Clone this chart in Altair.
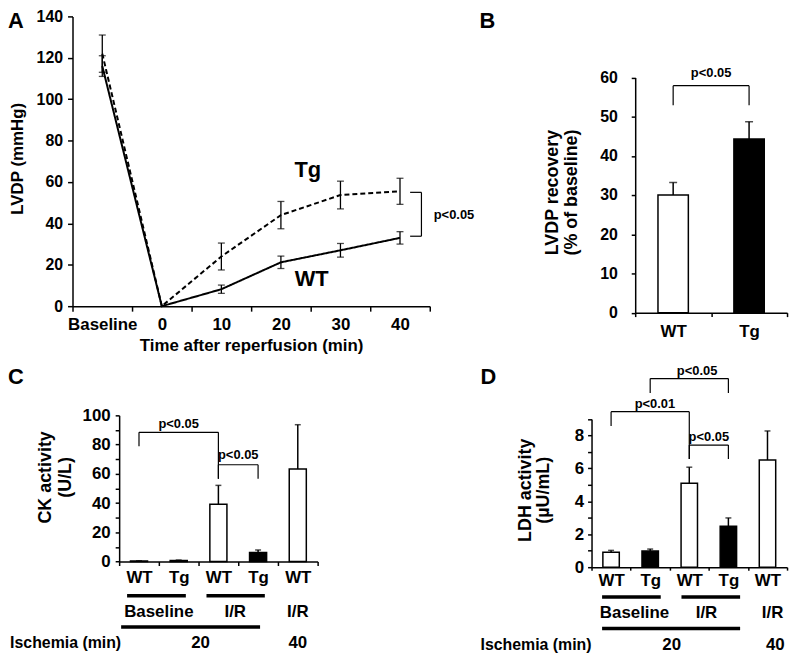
import altair as alt
import pandas as pd

# ---------------- values ----------------
a_times = ["Baseline", "0", "10", "20", "30", "40"]
a_wt_mean = [116.0, 0.0, 8.2, 21.2, 27.0, 33.0]
a_wt_sem = [5.0, 0.0, 2.0, 3.0, 3.3, 3.0]
a_tg_mean = [122.0, 0.0, 24.0, 44.0, 53.7, 55.5]
a_tg_sem = [9.0, 0.0, 6.5, 6.6, 6.7, 6.3]
a_yticks = [0, 20, 40, 60, 80, 100, 120, 140]
a_bracket = [55.0, 33.8]          # Tg end, WT end of the right-hand bracket

b_groups = ["WT", "Tg"]
b_mean = [30.0, 44.3]
b_sem = [3.2, 4.4]
b_yticks = [0, 10, 20, 30, 40, 50, 60]

cd_slots = ["WT_b20", "Tg_b20", "WT_ir20", "Tg_ir20", "WT_ir40"]
cd_geno = ["WT", "Tg", "WT", "Tg", "WT"]
c_mean = [0.3, 0.7, 39.2, 6.1, 63.3]
c_sem = [0.2, 0.3, 12.9, 1.8, 30.3]
c_yticks = [0, 10, 20, 30, 40, 50, 60, 70, 80, 90, 100]
d_mean = [0.9, 0.98, 5.1, 2.49, 6.5]
d_sem = [0.12, 0.12, 0.97, 0.5, 1.77]
d_yticks = [0, 1, 2, 3, 4, 5, 6, 7, 8, 9]

# brackets: [left group, right group, bar level, left foot, right foot]
b_brackets = [["WT", "Tg", 57.9, 52.9, 52.9]]
c_brackets = [["WT_b20", "WT_ir20", 88.4, 78.9, 56.7],
              ["WT_ir20", "Tg_ir20", 66.2, 56.7, 56.7]]
d_brackets = [["WT_b20", "WT_ir20", 9.44, 8.57, 6.57],
              ["Tg_b20", "Tg_ir20", 11.45, 10.58, 10.58],
              ["WT_ir20", "Tg_ir20", 7.41, 6.57, 6.57]]

# ---------------- layout ----------------
W, H = 790, 645
FONT = "Liberation Sans"


def band(domain, r0, r1):
    return alt.Scale(type="band", domain=domain, range=[r0, r1],
                     paddingInner=0, paddingOuter=0)


def lin(domain, r0, r1):
    return alt.Scale(type="linear", domain=domain, range=[r0, r1], nice=False)


def one(**kw):
    return pd.DataFrame({k: [v] for k, v in kw.items()})


def text_at(xs, ys, slot, bp, y, txt, size=13, align="center", dx=0, ypix=None):
    base = alt.Chart(one(s=slot, y=y)).mark_text(
        text=txt, fontSize=size, align=align, baseline="middle", dx=dx,
        font=FONT, fontWeight="bold", color="black")
    yenc = alt.value(ypix) if ypix is not None else alt.Y("y:Q", scale=ys, axis=None)
    return base.encode(x=alt.X("s:N", scale=xs, bandPosition=bp, axis=None), y=yenc)


def hline(xs, s1, bp1, s2, bp2, ypix, width=3.5):
    return alt.Chart(one(s1=s1, s2=s2)).mark_rule(color="black", strokeWidth=width).encode(
        x=alt.X("s1:N", scale=xs, bandPosition=bp1, axis=None),
        x2=alt.X2("s2", bandPosition=bp2),
        y=alt.value(ypix))


def bracket_layer(xs, ys, brs):
    rows = []
    for l, r, top, lf, rf in brs:
        rows.append({"s1": l, "s2": l, "y1": lf, "y2": top})
        rows.append({"s1": l, "s2": r, "y1": top, "y2": top})
        rows.append({"s1": r, "s2": r, "y1": rf, "y2": top})
    return alt.Chart(pd.DataFrame(rows)).mark_rule(color="black", strokeWidth=1.2).encode(
        x=alt.X("s1:N", scale=xs, bandPosition=0.5, axis=None),
        x2=alt.X2("s2", bandPosition=0.5),
        y=alt.Y("y1:Q", scale=ys, axis=None),
        y2="y2:Q")


fill_scale = alt.Scale(domain=["WT", "Tg"], range=["white", "black"])


def bar_layers(groups, geno, mean, sem, xs, ys, xaxis, yaxis, bw, cap):
    df = pd.DataFrame({"g": groups, "geno": geno, "mean": mean,
                       "hi": [m + s for m, s in zip(mean, sem)]})
    bars = alt.Chart(df).mark_bar(width={"band": bw}, stroke="black", strokeWidth=1.5).encode(
        x=alt.X("g:N", scale=xs, axis=xaxis),
        y=alt.Y("mean:Q", scale=ys, axis=yaxis, stack=None),
        fill=alt.Fill("geno:N", scale=fill_scale, legend=None))
    err = alt.Chart(df).mark_rule(color="black", strokeWidth=1.5).encode(
        x=alt.X("g:N", scale=xs, bandPosition=0.5, axis=None),
        y=alt.Y("mean:Q", scale=ys, axis=None), y2="hi:Q")
    caps = alt.Chart(df).mark_tick(color="black", size=cap, thickness=1.5,
                                   orient="horizontal").encode(
        x=alt.X("g:N", scale=xs, bandPosition=0.5, axis=None),
        y=alt.Y("hi:Q", scale=ys, axis=None))
    return [err, caps, bars]


# ---------------- Panel A ----------------
A_X0, A_X1, A_Y0, A_Y1 = 65, 425, 298, 6
xa = band(a_times, A_X0, A_X1)
ya = lin([0, 140], A_Y0, A_Y1)

rows = []
for series, means, sems in (("WT", a_wt_mean, a_wt_sem), ("Tg", a_tg_mean, a_tg_sem)):
    for i, (t, m, s) in enumerate(zip(a_times, means, sems)):
        rows.append({"series": series, "time": t, "idx": i, "mean": m,
                     "lo": m - s, "hi": m + s, "sem": s})
dfa = pd.DataFrame(rows)

xa_axis = alt.Axis(orient="bottom", offset=-(H - A_Y0), tickBand="extent", labelAngle=0,
                   labelFontSize=17, tickSize=5, labelPadding=5, labelOverlap=False,
                   title="Time after reperfusion (min)", titleFontSize=17,
                   titleX=245, titleY=40, titleBaseline="middle")
ya_axis = alt.Axis(orient="left", offset=-A_X0, values=a_yticks, labelFontSize=16,
                   tickSize=5, labelPadding=5, labelOverlap=False,
                   title="LVDP (mmHg)", titleFontSize=17, titleX=-55, titleY=149,
                   titleBaseline="middle")

lineA = alt.Chart(dfa).mark_line(color="black", strokeWidth=2).encode(
    x=alt.X("time:N", scale=xa, bandPosition=0.5, axis=xa_axis),
    y=alt.Y("mean:Q", scale=ya, axis=ya_axis),
    strokeDash=alt.StrokeDash("series:N", scale=alt.Scale(domain=["WT", "Tg"],
                                                            range=[[1, 0], [5, 3]]),
                              legend=None),
    order=alt.Order("idx:Q"))
errA = alt.Chart(dfa).transform_filter("datum.sem > 0").mark_rule(
    color="black", strokeWidth=1.3).encode(
    x=alt.X("time:N", scale=xa, bandPosition=0.5, axis=None),
    y=alt.Y("lo:Q", scale=ya, axis=None), y2="hi:Q")
capA = alt.Chart(dfa).transform_filter("datum.sem > 0").transform_fold(
    ["lo", "hi"], as_=["end", "val"]).mark_tick(
    color="black", size=7, thickness=1.3, orient="horizontal").encode(
    x=alt.X("time:N", scale=xa, bandPosition=0.5, axis=None),
    y=alt.Y("val:Q", scale=ya, axis=None))
brA_h = alt.Chart(pd.DataFrame({"t": ["40", "40"], "y": a_bracket})).mark_rule(
    color="black", strokeWidth=1.2).encode(
    x=alt.X("t:N", scale=xa, bandPosition=0.67, axis=None),
    x2=alt.X2("t", bandPosition=0.86),
    y=alt.Y("y:Q", scale=ya, axis=None))
brA_v = alt.Chart(one(t="40", y1=a_bracket[0], y2=a_bracket[1])).mark_rule(
    color="black", strokeWidth=1.2).encode(
    x=alt.X("t:N", scale=xa, bandPosition=0.86, axis=None),
    y=alt.Y("y1:Q", scale=ya, axis=None), y2="y2:Q")
layersA = [
    lineA, errA, capA, brA_h, brA_v,
    text_at(xa, ya, "40", 1.0, 44.1, "p<0.05", align="left", dx=4),
    text_at(xa, ya, "30", 0.0, 65.7, "Tg", size=22, dx=-3),
    text_at(xa, ya, "30", 0.0, 13.1, "WT", size=22, dx=1),
]

# ---------------- Panel B ----------------
B_X0, B_X1, B_Y0, B_Y1 = 632, 785, 304.5, 67.5
xb = band(b_groups, B_X0, B_X1)
yb = lin([0, 60], B_Y0, B_Y1)
xb_axis = alt.Axis(orient="bottom", offset=-(H - B_Y0), tickBand="extent", labelAngle=0,
                   labelFontSize=17, tickSize=4, labelPadding=7, labelOverlap=False,
                   title=None)
yb_axis = alt.Axis(orient="left", offset=-B_X0, values=b_yticks, labelFontSize=16,
                   tickSize=4, labelPadding=14, labelOverlap=False,
                   title=["LVDP recovery", "(% of baseline)"], titleFontSize=18,
                   titleLineHeight=19, titleX=-83, titleY=183, titleBaseline="middle")
layersB = [
    *bar_layers(b_groups, b_groups, b_mean, b_sem, xb, yb, xb_axis, yb_axis, 0.4, 8),
    bracket_layer(xb, yb, b_brackets),
    text_at(xb, yb, "WT", 1.0, 61.1, "p<0.05"),
]

# ---------------- Panel C ----------------
C_X0, C_X1, C_Y0, C_Y1 = 112, 312, 555.3, 408
xc = band(cd_slots, C_X0, C_X1)
yc = lin([0, 100], C_Y0, C_Y1)
xc_axis = alt.Axis(orient="bottom", offset=-(H - C_Y0), tickBand="extent", labelAngle=0,
                   labelExpr="split(datum.label, '_')[0]", labelFontSize=17, tickSize=4,
                   labelPadding=4, labelOverlap=False, title=None)
yc_axis = alt.Axis(orient="left", offset=-C_X0, values=c_yticks,
                   labelExpr="datum.value % 20 == 0 ? datum.label : ''",
                   labelFontSize=17, tickSize=4, labelPadding=5, labelOverlap=False,
                   title=["CK activity", "(U/L)"], titleFontSize=18, titleLineHeight=20,
                   titleX=-74, titleY=470, titleBaseline="middle")
layersC = [
    *bar_layers(cd_slots, cd_geno, c_mean, c_sem, xc, yc, xc_axis, yc_axis, 0.43, 6),
    bracket_layer(xc, yc, c_brackets),
    text_at(xc, yc, "Tg_b20", 0.5, 94.0, "p<0.05"),
    text_at(xc, yc, "WT_ir20", 1.0, 73.0, "p<0.05"),
    hline(xc, "WT_b20", 0.2, "Tg_b20", 0.68, 589.7),
    hline(xc, "WT_ir20", 0.2, "Tg_ir20", 0.67, 589.7),
    hline(xc, "WT_b20", 0.05, "Tg_ir20", 0.55, 621.3),
    text_at(xc, yc, "WT_b20", 1.0, 0, "Baseline", size=17, ypix=606.3),
    text_at(xc, yc, "WT_ir20", 1.0, 0, "I/R", size=17, dx=-3, ypix=606.3),
    text_at(xc, yc, "WT_ir40", 0.5, 0, "I/R", size=17, ypix=606.3),
    text_at(xc, yc, "Tg_b20", 1.0, 0, "20", size=17, dx=2, ypix=637),
    text_at(xc, yc, "WT_ir40", 0.5, 0, "40", size=17, ypix=637),
    text_at(xc, yc, "WT_b20", 0.0, 0, "Ischemia (min)", size=16, align="right",
            dx=2, ypix=637),
]

# ---------------- Panel D ----------------
D_X0, D_X1, D_Y0, D_Y1 = 588, 785, 561, 411.6
xd = band(cd_slots, D_X0, D_X1)
yd = lin([0, 9], D_Y0, D_Y1)
xd_axis = alt.Axis(orient="bottom", offset=-(H - D_Y0), tickBand="extent", labelAngle=0,
                   labelExpr="split(datum.label, '_')[0]", labelFontSize=17, tickSize=3,
                   labelPadding=2, labelOverlap=False, title=None)
yd_axis = alt.Axis(orient="left", offset=-D_X0, values=d_yticks,
                   labelExpr="datum.value % 2 == 0 ? datum.label : ''",
                   labelFontSize=17, tickSize=4, labelPadding=4, labelOverlap=False,
                   title=["LDH activity", "(µU/mL)"], titleFontSize=18, titleLineHeight=19,
                   titleX=-67, titleY=483, titleBaseline="middle")
layersD = [
    *bar_layers(cd_slots, cd_geno, d_mean, d_sem, xd, yd, xd_axis, yd_axis, 0.42, 6),
    bracket_layer(xd, yd, d_brackets),
    text_at(xd, yd, "Tg_b20", 0.62, 9.92, "p<0.01"),
    text_at(xd, yd, "WT_ir20", 0.7, 11.93, "p<0.05"),
    text_at(xd, yd, "WT_ir20", 1.0, 7.93, "p<0.05"),
    hline(xd, "WT_b20", 0.27, "Tg_b20", 0.77, 591),
    hline(xd, "WT_ir20", 0.3, "Tg_ir20", 0.8, 591),
    hline(xd, "WT_b20", 0.27, "Tg_ir20", 0.8, 622.7),
    text_at(xd, yd, "Tg_b20", 0.1, 0, "Baseline", size=17, ypix=607),
    text_at(xd, yd, "WT_ir20", 0.94, 0, "I/R", size=17, ypix=607),
    text_at(xd, yd, "WT_ir40", 0.63, 0, "I/R", size=17, ypix=607),
    text_at(xd, yd, "WT_ir20", 0.05, 0, "20", size=17, ypix=639),
    text_at(xd, yd, "WT_ir40", 0.7, 0, "40", size=17, ypix=639),
    text_at(xd, yd, "WT_b20", 0.0, 0, "Ischemia (min)", size=16, align="right", ypix=639),
]

# ---------------- panel letters ----------------
letters = []
for letter, lx, ly, al in (("A", 0, 11, "left"), ("B", 483, 11, "center"),
                           ("C", 0, 369, "left"), ("D", 484, 369, "center")):
    letters.append(alt.Chart(one(k=letter)).mark_text(
        text=letter, fontSize=22, font=FONT, fontWeight="bold", color="black",
        align=al, baseline="middle").encode(x=alt.value(lx), y=alt.value(ly)))

chart = alt.layer(*layersA, *layersB, *layersC, *layersD, *letters).resolve_scale(
    x="independent", y="independent"
).properties(
    width=W, height=H, padding=0, autosize=alt.AutoSizeParams(type="none")
).configure_view(stroke=None).configure_axis(
    grid=False, domainColor="black", tickColor="black", labelColor="black",
    titleColor="black", labelFont=FONT, titleFont=FONT, labelFontWeight="bold",
    titleFontWeight="bold", domainWidth=1.5, tickWidth=1.5
)

chart.save("out.html", embed_options={"renderer": "svg", "actions": False})
